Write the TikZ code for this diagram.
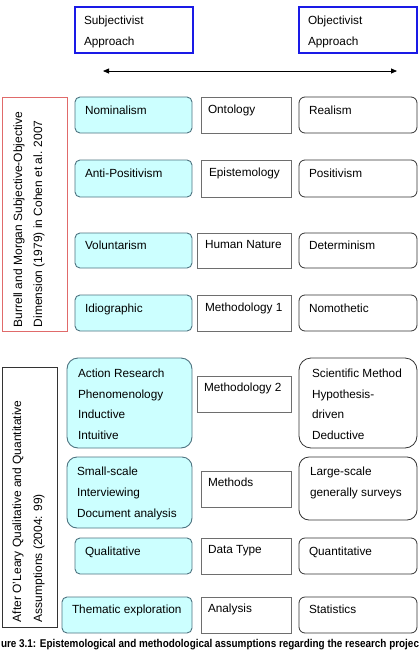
\documentclass[tikz,border=0pt]{standalone}
\usepackage{fontspec}
\setmainfont{Liberation Sans}
\usetikzlibrary{arrows.meta}
\definecolor{cyanfill}{HTML}{CCFFFF}
\definecolor{cyanline}{HTML}{4D7380}
\definecolor{lblline}{HTML}{6E6E6E}
\definecolor{rline}{HTML}{333333}
\definecolor{redline}{HTML}{E06A6A}
\definecolor{blueline}{HTML}{1A1AE6}
\begin{document}
\begin{tikzpicture}[x=1pt,y=-1pt,
  every node/.style={inner sep=0pt,outer sep=0pt},
  boxbase/.style={anchor=north west,draw},
  bluebox/.style={boxbase,draw=blueline,line width=2.4pt},
  redbox/.style={boxbase,draw=redline,line width=0.8pt},
  greybox/.style={boxbase,draw=rline,line width=0.7pt},
  cyanbox/.style={boxbase,draw=cyanline,fill=cyanfill,line width=0.9pt,rounded corners=5pt},
  lblbox/.style={boxbase,draw=lblline,line width=0.9pt},
  rbox/.style={boxbase,draw=rline,line width=0.8pt,rounded corners=6pt},
  txt/.style={anchor=base west,font=\fontsize{11.8}{14}\selectfont},
  rtxt/.style={anchor=base west,rotate=90,font=\fontsize{12}{14}\selectfont},
  arr/.style={line width=0.8pt,{Triangle[length=6pt,width=5pt]}-{Triangle[length=6pt,width=5pt]}}
]
\useasboundingbox (0,0) rectangle (420,654);

% top blue boxes
\node[bluebox,minimum width=118pt,minimum height=46pt] (subj) at (75,7) {};
\node[bluebox,minimum width=118pt,minimum height=46pt] (obj) at (299,7) {};
\node[txt] (subj1) at (84,24) {Subjectivist};
\node[txt] (subj2) at (84,45) {Approach};
\node[txt] (obj1) at (308,24) {Objectivist};
\node[txt] (obj2) at (308,45) {Approach};

% arrow
\coordinate (al) at (103,71);
\coordinate (ar) at (397,71);
\draw[arr] (al) -- (ar);

% left grouping boxes
\node[redbox,minimum width=65pt,minimum height=234pt] (grp1) at (2,97) {};
\node[rtxt] (g1a) at (22,327) {Burrell and Morgan Subjective-Objective};
\node[rtxt] (g1b) at (42,327) {Dimension (1979) in Cohen et al. 2007};
\node[greybox,minimum width=55pt,minimum height=260pt] (grp2) at (2,367) {};
\node[rtxt] (g2a) at (21,622) {After O'Leary Qualitative and Quantitative};
\node[rtxt] (g2b) at (42,622) {Assumptions (2004: 99)};

% cyan boxes
\node[cyanbox,minimum width=117pt,minimum height=36pt] (nom) at (75,97) {};
\node[cyanbox,minimum width=117pt,minimum height=37pt] (anti) at (75,160) {};
\node[cyanbox,minimum width=117pt,minimum height=35pt] (vol) at (75,233) {};
\node[cyanbox,minimum width=117pt,minimum height=36pt] (idio) at (75,295) {};
\node[cyanbox,rounded corners=11pt,minimum width=125pt,minimum height=90pt] (act) at (67,358) {};
\node[cyanbox,rounded corners=10pt,minimum width=125pt,minimum height=71pt] (small) at (67,457) {};
\node[cyanbox,minimum width=117pt,minimum height=36pt] (qual) at (75,538) {};
\node[cyanbox,minimum width=130pt,minimum height=36pt] (them) at (62,597) {};

\node[txt] at (85,114) {Nominalism};
\node[txt] at (85,177) {Anti-Positivism};
\node[txt] at (85,249) {Voluntarism};
\node[txt] at (85,312) {Idiographic};
\node[txt] at (78,377) {Action Research};
\node[txt] at (78,398) {Phenomenology};
\node[txt] at (78,418) {Inductive};
\node[txt] at (78,439) {Intuitive};
\node[txt] at (77,475) {Small-scale};
\node[txt] at (77,496) {Interviewing};
\node[txt] at (77,517) {Document analysis};
\node[txt] at (85,555) {Qualitative};
\node[txt] at (72,613) {Thematic exploration};

% label boxes
\node[lblbox,minimum width=90pt,minimum height=36pt] (ont) at (201,97) {};
\node[lblbox,minimum width=90pt,minimum height=37pt] (epi) at (201,160) {};
\node[lblbox,minimum width=94pt,minimum height=35pt] (hum) at (197,233) {};
\node[lblbox,minimum width=94pt,minimum height=36pt] (meth1) at (197,295) {};
\node[lblbox,minimum width=94pt,minimum height=36pt] (meth2) at (197,376) {};
\node[lblbox,minimum width=90pt,minimum height=36pt] (methods) at (201,471) {};
\node[lblbox,minimum width=90pt,minimum height=36pt] (dtype) at (201,538) {};
\node[lblbox,minimum width=90pt,minimum height=36pt] (anal) at (201,597) {};

\node[txt] at (208,113) {Ontology};
\node[txt] at (209,176) {Epistemology};
\node[txt] at (205,248) {Human Nature};
\node[txt] at (205,311) {Methodology 1};
\node[txt] at (204,391) {Methodology 2};
\node[txt] at (208,486) {Methods};
\node[txt] at (208,553) {Data Type};
\node[txt] at (208,612) {Analysis};

% right boxes
\node[rbox,minimum width=118pt,minimum height=36pt] (real) at (299,97) {};
\node[rbox,minimum width=118pt,minimum height=37pt] (pos) at (299,160) {};
\node[rbox,minimum width=118pt,minimum height=35pt] (det) at (299,233) {};
\node[rbox,minimum width=118pt,minimum height=36pt] (nomo) at (299,295) {};
\node[rbox,rounded corners=12pt,minimum width=118pt,minimum height=90pt] (sci) at (299,358) {};
\node[rbox,rounded corners=10pt,minimum width=118pt,minimum height=63pt] (large) at (299,457) {};
\node[rbox,minimum width=118pt,minimum height=36pt] (quant) at (299,538) {};
\node[rbox,minimum width=118pt,minimum height=36pt] (stat) at (299,597) {};

\node[txt] at (309,114) {Realism};
\node[txt] at (309,177) {Positivism};
\node[txt] at (309,249) {Determinism};
\node[txt] at (309,312) {Nomothetic};
\node[txt] at (312,377) {Scientific Method};
\node[txt] at (312,398) {Hypothesis-};
\node[txt] at (312,418) {driven};
\node[txt] at (312,439) {Deductive};
\node[txt] at (310,475) {Large-scale};
\node[txt] at (310,496) {generally surveys};
\node[txt] at (309,555) {Quantitative};
\node[txt] at (309,613) {Statistics};

% caption
\node[anchor=base west] (cap) at (1,647.5) {\resizebox{418pt}{8.2pt}{\bfseries ure 3.1: Epistemological and methodological assumptions regarding the research projec}};
\end{tikzpicture}
\end{document}
